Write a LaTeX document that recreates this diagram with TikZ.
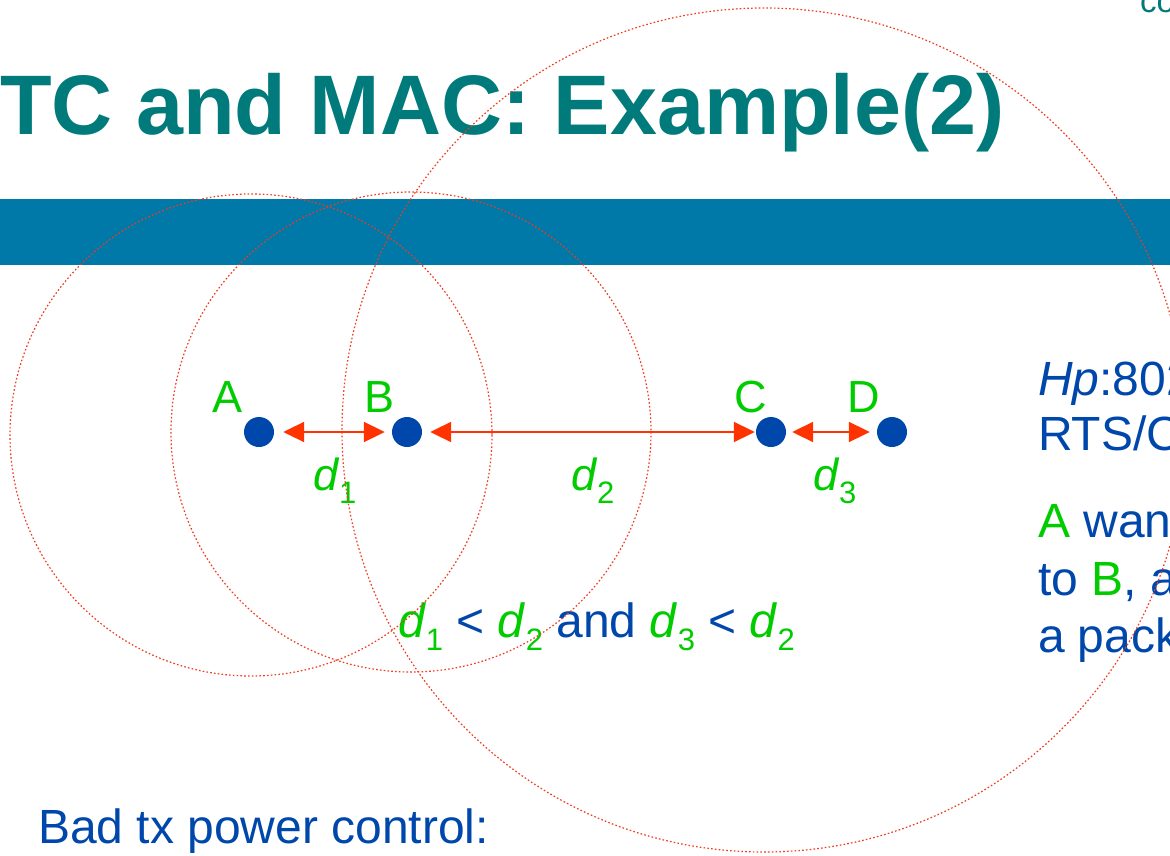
\documentclass[tikz,border=0pt]{standalone}
\usepackage{fontspec}
\setmainfont{Liberation Sans}
\usetikzlibrary{arrows.meta}
\definecolor{titleteal}{RGB}{0,122,122}
\definecolor{barblue}{RGB}{0,120,168}
\definecolor{tblue}{RGB}{0,71,171}
\definecolor{lgreen}{RGB}{0,204,0}
\definecolor{ared}{RGB}{255,51,0}
\definecolor{ringred}{RGB}{240,60,30}
\newcommand\mysub[1]{\raisebox{-13pt}{\fontsize{31}{31}\selectfont #1}}
\tikzset{
  txt/.style={anchor=base west, inner sep=0pt, outer sep=0pt},
  body/.style={txt, text=tblue, font=\fontsize{48}{56}\selectfont},
  lbl/.style={txt, text=lgreen, font=\fontsize{45}{50}\selectfont},
  dot/.style={circle, fill=tblue, minimum size=30pt, inner sep=0pt},
  arr/.style={draw=ared, line width=2pt, {Triangle[length=21pt,width=20pt]}-{Triangle[length=21pt,width=20pt]}},
  ring/.style={draw=ringred, line width=1.2pt, dash pattern=on 1.6pt off 2.2pt}
}
\begin{document}
\begin{tikzpicture}[x=1pt,y=-1pt]
\useasboundingbox (0,0) rectangle (1170,856);
\clip (0,0) rectangle (1170,856);
\fill[white] (0,0) rectangle (1170,856);
% header bar
\fill[barblue] (0,199) rectangle (1170,265);
% title
\node[txt, text=titleteal, font=\fontsize{84.5}{100}\selectfont\bfseries] (title) at (0,135) {TC and MAC: Example(2)};
\node[txt, text=titleteal, font=\fontsize{33}{36}\selectfont] (corner) at (1140,13) {co};
% stations
\node[dot] (A) at (259,432) {};
\node[dot] (B) at (407,432) {};
\node[dot] (C) at (771,432) {};
\node[dot] (D) at (892,432) {};
\node[lbl] (lA) at (212,412) {A};
\node[lbl] (lB) at (364,412) {B};
\node[lbl] (lC) at (734,412) {C};
\node[lbl] (lD) at (847,412) {D};
% distances
\draw[arr, shorten <=9pt, shorten >=7pt] (A) -- (B);
\draw[arr, shorten <=8pt, shorten >=1pt] (B) -- (C);
\draw[arr, shorten <=6pt, shorten >=7pt] (C) -- (D);
\node[lbl] (d1) at (313,490) {\textit{d}\mysub{1}};
\node[lbl] (d2) at (571,490) {\textit{d}\mysub{2}};
\node[lbl] (d3) at (813,490) {\textit{d}\mysub{3}};
% condition
\node[txt, font=\fontsize{48}{54}\selectfont] (cond) at (398,637)
  {\color{lgreen}\textit{d}\mysub{1} \color{tblue}< \color{lgreen}\textit{d}\mysub{2} \color{tblue}and \color{lgreen}\textit{d}\mysub{3} \color{tblue}< \color{lgreen}\textit{d}\mysub{2}};
% right text
\node[body] (hp) at (1038,395) {\textit{Hp}:802.11};
\node[body] (rts) at (1038,450) {RTS/CTS};
\node[body] (l1) at (1038,537) {\textcolor{lgreen}{A} wants};
\node[body] (l2) at (1038,595) {to \textcolor{lgreen}{B}, and};
\node[body] (l3) at (1038,652) {a packet};
% bottom
\node[body] (bad) at (38,843) {Bad tx power control:};
% ranges
\draw[ring] (251,435) circle[radius=241];
\draw[ring] (411,432) circle[radius=240];
\draw[ring] (764,430) circle[radius=422];
\end{tikzpicture}
\end{document}
